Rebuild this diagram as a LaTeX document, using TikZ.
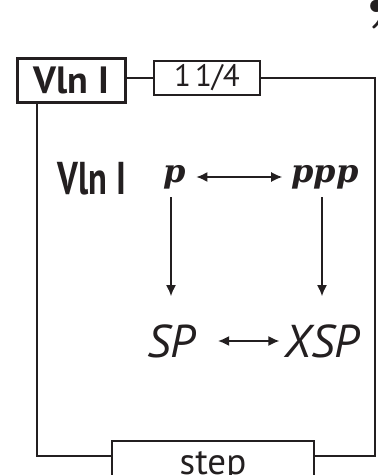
\documentclass[tikz,border=0pt]{standalone}
\usepackage{fontspec}
\setsansfont{PT Sans}
\newfontfamily\condfont[FakeStretch=0.75]{PT Sans}
\newfontfamily\dynfont{DejaVu Serif}
\usetikzlibrary{arrows.meta}
\definecolor{ink}{HTML}{231F20}

\begin{document}
\begin{tikzpicture}[
    x=1pt, y=1pt,
    font=\sffamily,
    color=ink,
    framebox/.style={draw, line width=2.2pt, inner sep=0pt},
    label text/.style={inner sep=0pt},
    duoarrow/.style={{Latex[length=11pt,width=10pt]}-{Latex[length=11pt,width=10pt]}, line width=1.6pt},
    downarrow/.style={-{Latex[length=11pt,width=10pt]}, line width=1.6pt}
]
\useasboundingbox (0,0) rectangle (378,475);

% === Header: instrument and duration ===
\node[framebox, line width=3.5pt, minimum width=108pt, minimum height=44pt]
    (vln) at (71.5,394.5) {\fontsize{38}{40}\selectfont\bfseries Vln I};
\node[framebox, minimum width=106pt, minimum height=34pt]
    (frac) at (207,397) {\fontsize{31}{33}\selectfont 1\kern4pt1/4};
\draw[line width=2.2pt] (frac.west) -- (frac.west -| vln.east);

% breath mark
\node[inner sep=0pt, anchor=base west] (breath) at (363,462)
    {\rmfamily\fontsize{85}{85}\selectfont\bfseries ,};

% === Loop frame ===
\coordinate (lcorner) at (37,19);
\coordinate (rcorner) at (375,19);
\node[framebox, minimum width=202pt, text height=33pt, text depth=13pt, anchor=north]
    (step) at (213,35) {\fontsize{37}{39}\selectfont step};
\draw[line width=2.2pt] (vln.south -| lcorner) -- (lcorner) -- (step.west |- lcorner);
\draw[line width=2.2pt] (frac.east) -- (frac.east -| rcorner) -- (rcorner) -- (step.east |- rcorner);

% === Dynamics ===
\node[label text] (vln2) at (92,296) {\fontsize{46}{48}\selectfont\condfont\bfseries Vln I};
\node[label text] (p) at (175,298) {\dynfont\fontsize{32}{34}\selectfont\bfseries\itshape p};
\node[label text] (ppp) at (325,298) {\dynfont\fontsize{32}{34}\selectfont\bfseries\itshape ppp};

% === Playing positions ===
\node[label text] (sp) at (171,134) {\fontsize{46}{48}\selectfont\itshape SP};
\node[label text] (xsp) at (322,134) {\fontsize{46}{48}\selectfont\itshape XSP};

\draw[duoarrow, shorten <=10pt, shorten >=9pt] (p) -- (ppp);
\draw[downarrow, shorten <=8pt, shorten >=28pt] (p.south -| sp.north) -- (sp.north);
\draw[downarrow, shorten <=8pt, shorten >=28pt] (ppp.south -| xsp.north) -- (xsp.north);
\draw[duoarrow, shorten <=23pt, shorten >=5pt] (sp) -- (xsp);

\end{tikzpicture}
\end{document}
